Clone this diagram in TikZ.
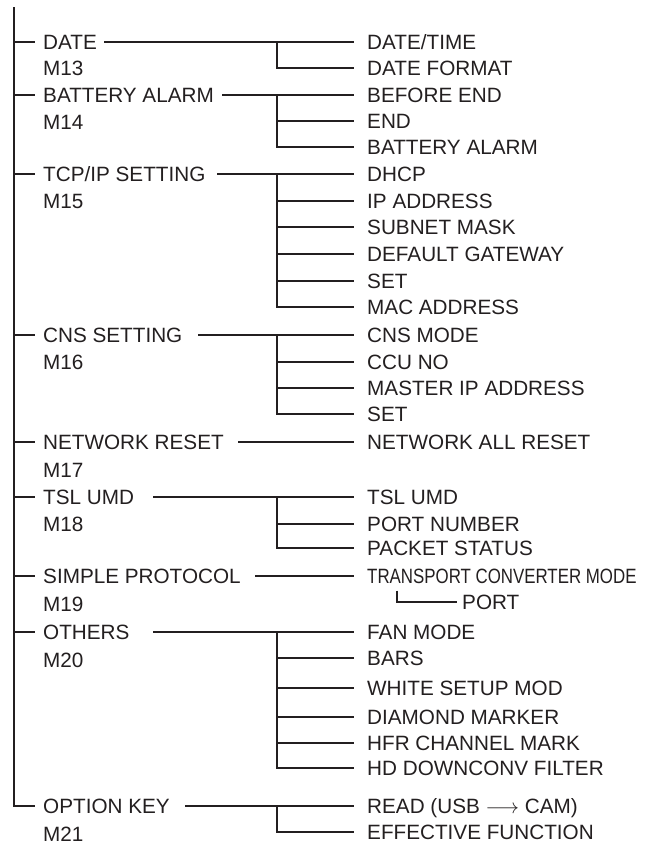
\documentclass[tikz,border=0pt]{standalone}
\usepackage{fontspec}
\setmainfont{Liberation Sans}
\usepackage{graphicx}
\definecolor{ink}{HTML}{231F20}
\begin{document}
\begin{tikzpicture}[x=1pt,y=-1pt,
  lbl/.style={anchor=west, inner sep=0pt, text height=14.8pt, text depth=0pt,
              font=\fontsize{20.7}{24}\selectfont, text=ink},
  ln/.style={draw=ink, line width=1.9pt},
]
\useasboundingbox (0,0) rectangle (652,854);
% ---- left column: menu items
\node[lbl] (p1) at (43,42)  {DATE};
\node[lbl] (m1) at (43,68)  {M13};
\node[lbl] (p2) at (43,95)  {BATTERY ALARM};
\node[lbl] (m2) at (43,122) {M14};
\node[lbl] (p3) at (43,174) {TCP/IP SETTING};
\node[lbl] (m3) at (43,201) {M15};
\node[lbl] (p4) at (43,335) {CNS SETTING};
\node[lbl] (m4) at (43,362) {M16};
\node[lbl] (p5) at (43,442) {NETWORK RESET};
\node[lbl] (m5) at (43,470) {M17};
\node[lbl] (p6) at (43,497) {TSL UMD};
\node[lbl] (m6) at (43,524) {M18};
\node[lbl] (p7) at (43,576) {SIMPLE PROTOCOL};
\node[lbl] (m7) at (43,604) {M19};
\node[lbl] (p8) at (43,632) {OTHERS};
\node[lbl] (m8) at (43,660) {M20};
\node[lbl] (p9) at (43,806) {OPTION KEY};
\node[lbl] (m9) at (43,834) {M21};
% ---- right column: sub items
\node[lbl] (c1a) at (367,42)  {DATE/TIME};
\node[lbl] (c1b) at (367,68)  {DATE FORMAT};
\node[lbl] (c2a) at (367,95)  {BEFORE END};
\node[lbl] (c2b) at (367,121) {END};
\node[lbl] (c2c) at (367,147) {BATTERY ALARM};
\node[lbl] (c3a) at (367,174) {DHCP};
\node[lbl] (c3b) at (367,201) {IP ADDRESS};
\node[lbl] (c3c) at (367,227) {SUBNET MASK};
\node[lbl] (c3d) at (367,254) {DEFAULT GATEWAY};
\node[lbl] (c3e) at (367,281) {SET};
\node[lbl] (c3f) at (367,307) {MAC ADDRESS};
\node[lbl] (c4a) at (367,335) {CNS MODE};
\node[lbl] (c4b) at (367,362) {CCU NO};
\node[lbl] (c4c) at (367,388) {MASTER IP ADDRESS};
\node[lbl] (c4d) at (367,414) {SET};
\node[lbl] (c5a) at (367,442) {NETWORK ALL RESET};
\node[lbl] (c6a) at (367,497) {TSL UMD};
\node[lbl] (c6b) at (367,524) {PORT NUMBER};
\node[lbl] (c6c) at (367,548) {PACKET STATUS};
\node[lbl] (c7a) at (367,576) {\scalebox{0.815}[1]{TRANSPORT CONVERTER MODE}};
\node[lbl] (c7b) at (462,602) {PORT};
\node[lbl] (c8a) at (367,632) {FAN MODE};
\node[lbl] (c8b) at (367,658) {BARS};
\node[lbl] (c8c) at (367,688) {WHITE SETUP MOD};
\node[lbl] (c8d) at (367,717) {DIAMOND MARKER};
\node[lbl] (c8e) at (367,743) {HFR CHANNEL MARK};
\node[lbl] (c8f) at (367,768) {HD DOWNCONV FILTER};
\node[lbl] (c9a) at (367,806) {READ (USB $\longrightarrow$ CAM)};
\node[lbl] (c9b) at (367,832) {EFFECTIVE FUNCTION};
% ---- trunk
\coordinate (top) at (14,7);
\draw[ln] (top) |- ([xshift=-8pt]p9.west);
\foreach \p in {p1,p2,p3,p4,p5,p6,p7,p8}
  \draw[ln] (top |- \p.west) -- ([xshift=-8pt]\p.west);
% ---- item to first sub item
\draw[ln] (104,0 |- p1.east) -- ([xshift=-13pt]c1a.west);
\draw[ln] (222,0 |- p2.east) -- ([xshift=-13pt]c2a.west);
\draw[ln] (217,0 |- p3.east) -- ([xshift=-13pt]c3a.west);
\draw[ln] (198,0 |- p4.east) -- ([xshift=-13pt]c4a.west);
\draw[ln] (238,0 |- p5.east) -- ([xshift=-13pt]c5a.west);
\draw[ln] (153,0 |- p6.east) -- ([xshift=-13pt]c6a.west);
\draw[ln] (255,0 |- p7.east) -- ([xshift=-13pt]c7a.west);
\draw[ln] (153,0 |- p8.east) -- ([xshift=-13pt]c8a.west);
\draw[ln] (185,0 |- p9.east) -- ([xshift=-13pt]c9a.west);
% ---- branches
\draw[ln] (277,0 |- c1a.west) |- ([xshift=-13pt]c1b.west);
\draw[ln] (277,0 |- c2a.west) |- ([xshift=-13pt]c2c.west);
\draw[ln] (277,0 |- c2b.west) -- ([xshift=-13pt]c2b.west);
\draw[ln] (277,0 |- c3a.west) |- ([xshift=-13pt]c3f.west);
\foreach \c in {c3b,c3c,c3d,c3e}
  \draw[ln] (277,0 |- \c.west) -- ([xshift=-13pt]\c.west);
\draw[ln] (277,0 |- c4a.west) |- ([xshift=-13pt]c4d.west);
\foreach \c in {c4b,c4c}
  \draw[ln] (277,0 |- \c.west) -- ([xshift=-13pt]\c.west);
\draw[ln] (277,0 |- c6a.west) |- ([xshift=-13pt]c6c.west);
\draw[ln] (277,0 |- c6b.west) -- ([xshift=-13pt]c6b.west);
\draw[ln] ([yshift=-7pt]397,0 |- c7a.south) |- ([xshift=-5pt]c7b.west);
\draw[ln] (277,0 |- c8a.west) |- ([xshift=-13pt]c8f.west);
\foreach \c in {c8b,c8c,c8d,c8e}
  \draw[ln] (277,0 |- \c.west) -- ([xshift=-13pt]\c.west);
\draw[ln] (277,0 |- c9a.west) |- ([xshift=-13pt]c9b.west);
\end{tikzpicture}
\end{document}
